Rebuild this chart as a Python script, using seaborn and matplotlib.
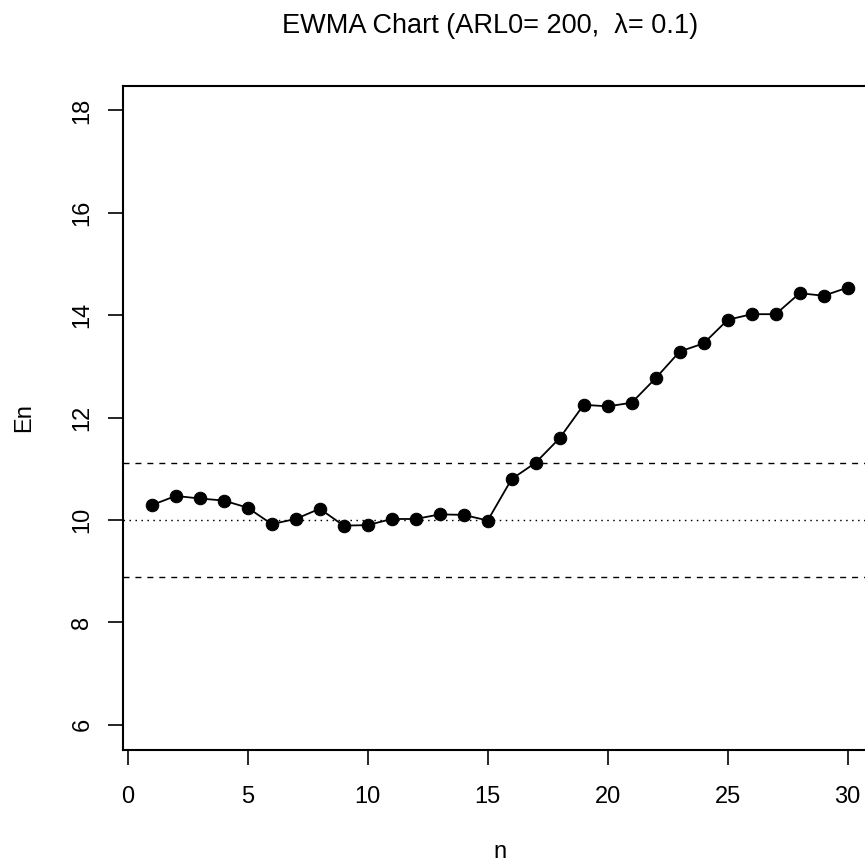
import matplotlib
matplotlib.use("Agg")
import matplotlib.pyplot as plt
import seaborn as sns
import pandas as pd

# EWMA statistic per sample
n_obs = list(range(1, 31))
en_values = [10.29, 10.47, 10.42, 10.38, 10.24, 9.92, 10.02, 10.22, 9.89, 9.90,
             10.02, 10.02, 10.11, 10.10, 9.99, 10.80, 11.12, 11.60, 12.25, 12.22,
             12.29, 12.77, 13.29, 13.45, 13.91, 14.02, 14.02, 14.43, 14.38, 14.54]
center_line = 10.0
upper_limit = 11.12
lower_limit = 8.88
x_ticks = [0, 5, 10, 15, 20, 25, 30]
y_ticks = [6, 8, 10, 12, 14, 16, 18]

sns.set_theme(style="white")
plt.rcParams["font.family"] = ["Liberation Sans", "DejaVu Sans"]

W, H = 865, 864
fig = plt.figure(figsize=(W / 100, H / 100), dpi=100)

left_px, top_px, bottom_px = 123.3, 85.7, 750.0
ax = fig.add_axes([left_px / W, 1 - bottom_px / H, 1.01 - left_px / W, (bottom_px - top_px) / H])

df = pd.DataFrame({"n": n_obs, "En": en_values})

# control limits and center line
ax.axhline(upper_limit, color="black", lw=1.0, dashes=(4.3, 4.3), zorder=1)
ax.axhline(lower_limit, color="black", lw=1.0, dashes=(4.3, 4.3), zorder=1)
ax.axhline(center_line, color="black", lw=1.0, dashes=(1.1, 3.2), zorder=1)

sns.lineplot(data=df, x="n", y="En", ax=ax, color="black", lw=1.3,
             marker="o", markersize=9, markeredgecolor="black",
             markerfacecolor="black", zorder=3)

px_per_x = 24.0
ax.set_xlim(-(127.7 - left_px) / px_per_x, (W * 1.01 - 127.7) / px_per_x)
px_per_y = 51.2
ax.set_ylim(10 - (bottom_px - 520) / px_per_y, 10 + (520 - top_px) / px_per_y)

ax.set_xticks(x_ticks)
ax.set_yticks(y_ticks)
ax.set_xlabel("")
ax.set_ylabel("")

for side in ["left", "top", "bottom"]:
    ax.spines[side].set_color("black")
    ax.spines[side].set_linewidth(1.5)
ax.spines["right"].set_visible(False)

ax.tick_params(axis="both", which="major", direction="out", length=10.8,
               width=1.2, color="black", labelsize=17, labelcolor="black")
ax.tick_params(axis="x", pad=15, bottom=True)
ax.tick_params(axis="y", pad=10.8, left=True, labelrotation=90)
for lab in ax.get_yticklabels():
    lab.set_verticalalignment("center")

fig.text(490 / W, 1 - 33.3 / H, "EWMA Chart (ARL0= 200,  λ= 0.1)",
         ha="center", va="baseline", fontsize=19.5, color="black")
fig.text(500 / W, 1 - 858 / H, "n", ha="center", va="baseline",
         fontsize=17, color="black")
fig.text(35 / W, 1 - 418 / H, "En", ha="right", va="center", rotation=90,
         fontsize=17, color="black")

fig.savefig("out.png", dpi=100, facecolor="white")
